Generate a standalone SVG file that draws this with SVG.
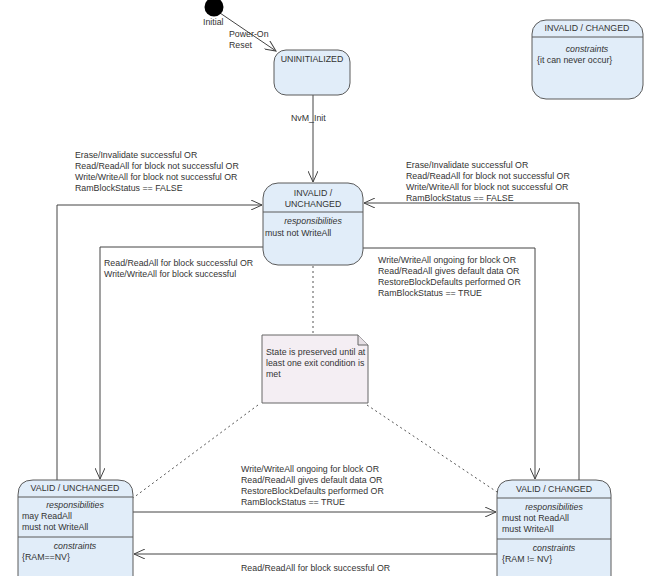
<svg xmlns="http://www.w3.org/2000/svg" width="650" height="576" viewBox="0 0 650 576">
<style>
.st{fill:#e1edf9;stroke:#5a5a5a;stroke-width:1}
.sep{stroke:#5a5a5a;stroke-width:1}
.t{font-family:"Liberation Sans",Arial,sans-serif;font-size:8.8px;fill:#333}
.c{text-anchor:middle}
.i{font-style:italic}
.ln{fill:none;stroke:#444;stroke-width:1}
.dot{fill:none;stroke:#555;stroke-width:1;stroke-dasharray:2,3}
</style>
<defs>
<marker id="ah" viewBox="0 0 12 10" refX="11" refY="5" markerWidth="12" markerHeight="10" markerUnits="userSpaceOnUse" orient="auto">
<path d="M0,0 L11,5 L0,10" fill="none" stroke="#444" stroke-width="1"/>
</marker>
</defs>
<rect width="650" height="576" fill="#ffffff"/>
<g id="connectors">
<line class="ln" x1="220" y1="13" x2="276" y2="51" marker-end="url(#ah)"/>
<line class="ln" x1="313" y1="95" x2="313" y2="182" marker-end="url(#ah)"/>
<polyline class="ln" points="57,480 57,205 262,205" marker-end="url(#ah)"/>
<polyline class="ln" points="263,247 100,247 100,479" marker-end="url(#ah)"/>
<polyline class="ln" points="579,480 579,203 364,203" marker-end="url(#ah)"/>
<polyline class="ln" points="363,248 535,248 535,479" marker-end="url(#ah)"/>
<line class="ln" x1="133" y1="512" x2="496" y2="512" marker-end="url(#ah)"/>
<line class="ln" x1="497" y1="554" x2="134" y2="554" marker-end="url(#ah)"/>
<line class="dot" x1="313" y1="266" x2="313" y2="335"/>
<line class="dot" x1="258" y1="405" x2="133" y2="498"/>
<line class="dot" x1="367" y1="405" x2="497" y2="492"/>
<text class="t" x="229" y="37">Power-On</text>
<text class="t" x="229" y="48">Reset</text>
<text class="t" x="291" y="121">NvM_Init</text>
<text class="t" x="75" y="158">Erase/Invalidate successful OR</text>
<text class="t" x="75" y="169">Read/ReadAll for block not successful OR</text>
<text class="t" x="75" y="180">Write/WriteAll for block not successful OR</text>
<text class="t" x="75" y="191">RamBlockStatus == FALSE</text>
<text class="t" x="406" y="168">Erase/Invalidate successful OR</text>
<text class="t" x="406" y="179">Read/ReadAll for block not successful OR</text>
<text class="t" x="406" y="190">Write/WriteAll for block not successful OR</text>
<text class="t" x="406" y="201">RamBlockStatus == FALSE</text>
<text class="t" x="104" y="266">Read/ReadAll for block successful OR</text>
<text class="t" x="104" y="277">Write/WriteAll for block successful</text>
<text class="t" x="378" y="263">Write/WriteAll ongoing for block OR</text>
<text class="t" x="378" y="274">Read/ReadAll gives default data OR</text>
<text class="t" x="378" y="285">RestoreBlockDefaults performed OR</text>
<text class="t" x="378" y="296">RamBlockStatus == TRUE</text>
<text class="t" x="241" y="472">Write/WriteAll ongoing for block OR</text>
<text class="t" x="241" y="483">Read/ReadAll gives default data OR</text>
<text class="t" x="241" y="494">RestoreBlockDefaults performed OR</text>
<text class="t" x="241" y="505">RamBlockStatus == TRUE</text>
<text class="t" x="241" y="571">Read/ReadAll for block successful OR</text>
</g>
<g id="initial">
<circle cx="214" cy="7" r="9.5" fill="#000"/>
<text class="t" x="203" y="25">Initial</text>
</g>
<g id="uninitialized">
<rect class="st" x="274" y="50" width="76" height="45" rx="12"/>
<text class="t c" x="312" y="62">UNINITIALIZED</text>
</g>
<g id="invalid-changed">
<rect class="st" x="532" y="20" width="111" height="79" rx="14"/>
<line class="sep" x1="532" y1="37" x2="643" y2="37"/>
<text class="t c" x="587" y="31">INVALID / CHANGED</text>
<text class="t c i" x="587" y="52">constraints</text>
<text class="t" x="537" y="63">{it can never occur}</text>
</g>
<g id="invalid-unchanged">
<rect class="st" x="263" y="183" width="100" height="82" rx="15"/>
<line class="sep" x1="263" y1="212" x2="363" y2="212"/>
<text class="t c" x="313" y="196">INVALID /</text>
<text class="t c" x="313" y="207">UNCHANGED</text>
<text class="t c i" x="313" y="224">responsibilities</text>
<text class="t" x="265" y="236">must not WriteAll</text>
</g>
<g id="note">
<path d="M262,335 L358,335 L368,345 L368,403 L262,403 Z" fill="#f4eef3" stroke="#666"/>
<path d="M358,335 L358,345 L368,345" fill="#e6e0e5" stroke="#666"/>
<text class="t" x="266" y="355">State is preserved until at</text>
<text class="t" x="266" y="366">least one exit condition is</text>
<text class="t" x="266" y="377">met</text>
</g>
<g id="valid-unchanged">
<path class="st" d="M18,600 L18,495 Q18,480 33,480 L118,480 Q133,480 133,495 L133,600 Z"/>
<line class="sep" x1="18" y1="497" x2="133" y2="497"/>
<line class="sep" x1="18" y1="537" x2="133" y2="537"/>
<text class="t c" x="75" y="491">VALID / UNCHANGED</text>
<text class="t c i" x="75" y="508">responsibilities</text>
<text class="t" x="22" y="519">may ReadAll</text>
<text class="t" x="22" y="530">must not WriteAll</text>
<text class="t c i" x="75" y="549">constraints</text>
<text class="t" x="22" y="560">{RAM==NV}</text>
</g>
<g id="valid-changed">
<path class="st" d="M497,600 L497,495 Q497,480 512,480 L596,480 Q611,480 611,495 L611,600 Z"/>
<line class="sep" x1="497" y1="498" x2="611" y2="498"/>
<line class="sep" x1="497" y1="539" x2="611" y2="539"/>
<text class="t c" x="554" y="492">VALID / CHANGED</text>
<text class="t c i" x="554" y="510">responsibilities</text>
<text class="t" x="502" y="521">must not ReadAll</text>
<text class="t" x="502" y="532">must WriteAll</text>
<text class="t c i" x="554" y="551">constraints</text>
<text class="t" x="502" y="562">{RAM != NV}</text>
</g>
</svg>
